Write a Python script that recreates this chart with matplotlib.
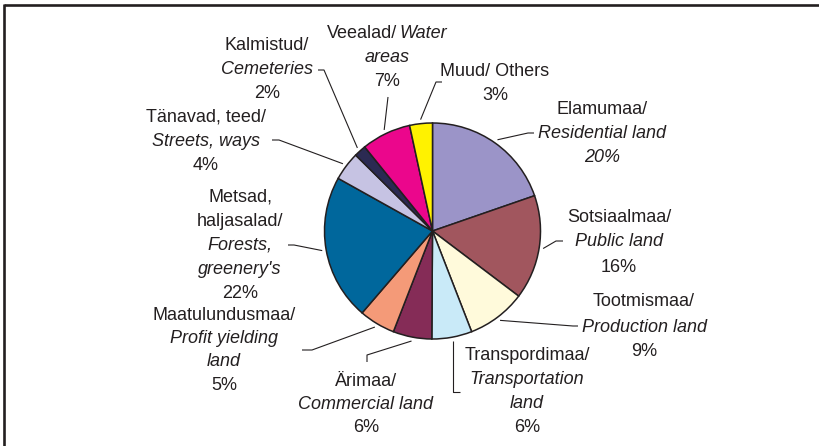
import matplotlib
matplotlib.use("Agg")
import matplotlib.pyplot as plt
import numpy as np

W, H = 819, 446

# ---- data ----
names_et = ["Elamumaa/", "Sotsiaalmaa/", "Tootmismaa/", "Transpordimaa/", "Ärimaa/",
            "Maatulundusmaa/", "Metsad,\nhaljasalad/", "Tänavad, teed/", "Kalmistud/",
            "Veealad/", "Muud/"]
names_en = ["Residential land", "Public land", "Production land", "Transportation\nland",
            "Commercial land", "Profit yielding\nland", "Forests,\ngreenery's", "Streets, ways",
            "Cemeteries", "Water\nareas", "Others"]
values = [19.7, 15.6, 8.8, 6.0, 5.8, 5.4, 21.8, 4.3, 1.8, 7.4, 3.4]
colors = ["#9B94C8", "#A1565E", "#FFFADB", "#C9EAF8", "#852C57", "#F49A78",
          "#00679C", "#C6C3E3", "#2B2A52", "#EB068C", "#FFF200"]

# ---- layout ----
TXT = "#231F20"
FS = 13
cx, cy, R = 432.5, 231, 108
# per label: x centre, first line y (px from top), line step, en first line inline with et,
# en italic, pct italic, elbow points (px from top; None x -> anchor x)
layout = [
    dict(x=602, y=110, step=23.5, inline=False, eit=True, pit=True,  pts=[(528, 133), (534, 133)]),
    dict(x=619, y=217, step=25,   inline=False, eit=True, pit=False, pts=[(556, 241), (563, 241)]),
    dict(x=644, y=302, step=25,   inline=False, eit=True, pit=False, pts=[(573, 326), (578, 326)]),
    dict(x=527, y=355, step=24.3, inline=False, eit=True, pit=False, pts=[(None, 392), (460, 392)]),
    dict(x=366, y=381, step=23.5, inline=False, eit=True, pit=False, pts=[(367, 355), (367, 362)]),
    dict(x=224, y=315, step=23.4, inline=False, eit=True, pit=False, pts=[(312, 350), (302, 350)]),
    dict(x=240, y=197, step=24,   inline=False, eit=True, pit=False, pts=[(294, 245), (288, 245)]),
    dict(x=206, y=117, step=24.5, inline=False, eit=True, pit=False, pts=[(279, 140), (272, 140)]),
    dict(x=267, y=46,  step=23.5, inline=False, eit=True, pit=False, pts=[(324, 70), (318, 70)]),
    dict(x=387, y=33,  step=24.5, inline=True,  eit=True, pit=False, pts=[(388, 97)]),
    dict(x=495, y=71,  step=25,   inline=True,  eit=False, pit=False, pts=[(436, 82), (442, 82)]),
]

plt.rcParams['font.family'] = ['Liberation Sans', 'DejaVu Sans']

fig = plt.figure(figsize=(W / 100, H / 100), dpi=100)
ax = fig.add_axes([0, 0, 1, 1])

def Y(y):
    return H - y

ax.pie(values, colors=colors, startangle=90, counterclock=False,
       center=(cx, Y(cy)), radius=R,
       wedgeprops=dict(edgecolor=TXT, linewidth=1.1))
ax.set_xlim(0, W)
ax.set_ylim(0, H)
ax.set_aspect('auto')
ax.axis('off')

renderer = fig.canvas.get_renderer()

def draw_line(segs, xc, y):
    # merge neighbouring segments of equal style
    merged = []
    for s, it in segs:
        if merged and merged[-1][1] == it:
            merged[-1] = (merged[-1][0] + " " + s, it)
        else:
            merged.append((s, it))
    arts = []
    for s, it in merged:
        t = ax.text(0, Y(y), s, fontsize=FS, color=TXT, style='italic' if it else 'normal',
                    ha='left', va='center')
        arts.append(t)
    widths = [a.get_window_extent(renderer).width for a in arts]
    gap = 1.5
    total = sum(widths) + gap * (len(arts) - 1)
    x = xc - total / 2
    for a, w in zip(arts, widths):
        a.set_x(x)
        x += w + gap

cum = np.cumsum([0] + values)
tot = cum[-1]
for i, L in enumerate(layout):
    et_lines = names_et[i].split("\n")
    en_lines = names_en[i].split("\n")
    lines = [[(s, False)] for s in et_lines]
    if L['inline']:
        lines[-1] = lines[-1] + [(en_lines[0], L['eit'])]
        en_rest = en_lines[1:]
    else:
        en_rest = en_lines
    lines += [[(s, L['eit'])] for s in en_rest]
    lines.append([(f"{round(values[i])}%", L['pit'])])
    for k, segs in enumerate(lines):
        draw_line(segs, L['x'], L['y'] + k * L['step'])
    # leader line from wedge mid-angle
    mid = (cum[i] + cum[i + 1]) / 2 / tot * 2 * np.pi
    ar = R + 4
    axp = cx + ar * np.sin(mid)
    ayp = cy - ar * np.cos(mid)
    xs = [axp]
    ys = [ayp]
    for (px, py) in L['pts']:
        xs.append(axp if px is None else px)
        ys.append(py)
    ax.plot(xs, [Y(v) for v in ys], color=TXT, lw=0.8, solid_capstyle='butt')

# frame (top and left)
ax.plot([4, W], [Y(5), Y(5)], color=TXT, lw=1.9, solid_capstyle='butt')
ax.plot([4, 4], [Y(4), 0], color=TXT, lw=1.9, solid_capstyle='butt')

fig.savefig("out.png", dpi=100)
